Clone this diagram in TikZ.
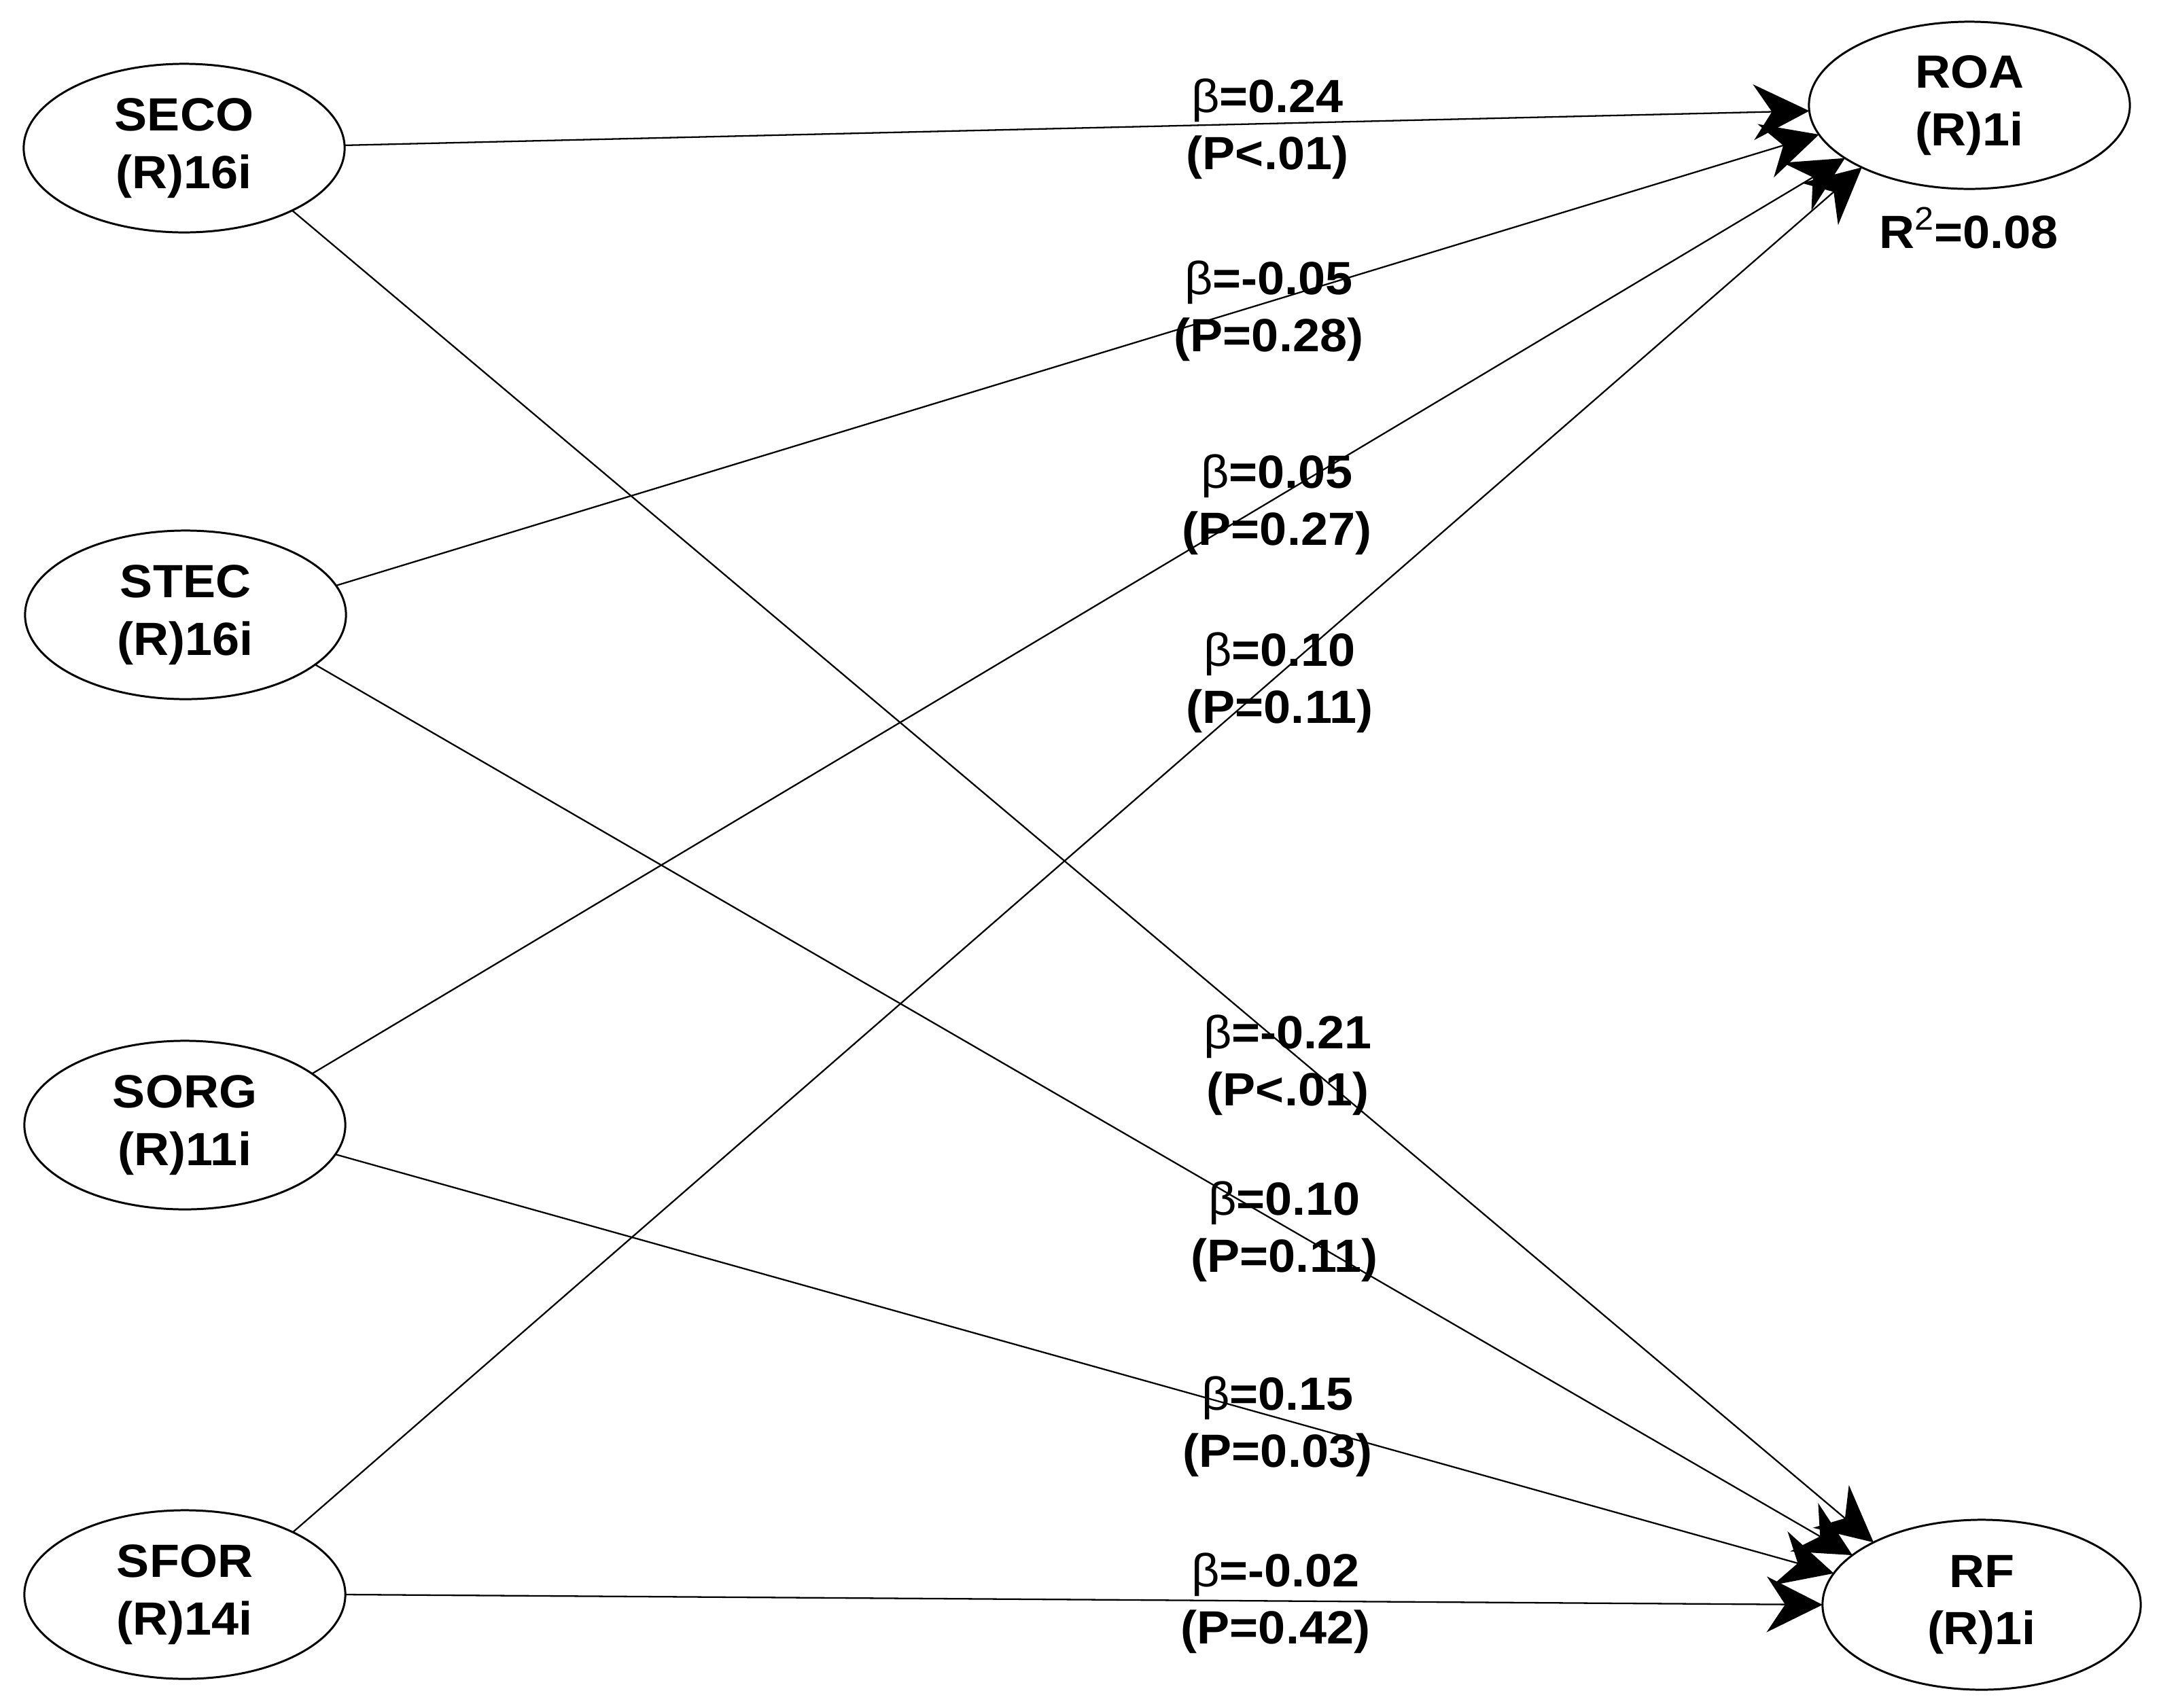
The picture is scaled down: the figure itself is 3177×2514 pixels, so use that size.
\documentclass[tikz,border=0pt]{standalone}
\usepackage{fontspec}
\setmainfont{Liberation Sans}[FakeStretch=1.05]
\usetikzlibrary{shapes.geometric,arrows.meta}
\tikzset{
  lat/.style={ellipse, draw, line width=0.85pt, inner sep=0pt, outer sep=0pt,
    minimum width=4.72cm, minimum height=2.48cm, align=center,
    font=\bfseries\fontsize{19.5}{24}\selectfont},
  conn/.style={line width=0.65pt, -{Stealth[length=0.82cm,width=0.82cm,inset=0.27cm]}},
  coef/.style={align=center, inner sep=0pt, font=\bfseries\fontsize{19.5}{24}\selectfont},
}
\begin{document}
\begin{tikzpicture}[x=0.01cm, y=-0.01cm]
\fill[white] (0,0) rectangle (3177,2514);
\useasboundingbox (0,0) rectangle (3177,2514);

% latent variables
\node[lat] (SECO) at (271,218) {SECO\\(R)16i};
\node[lat] (STEC) at (273,905) {STEC\\(R)16i};
\node[lat] (SORG) at (272,1656) {SORG\\(R)11i};
\node[lat] (SFOR) at (272,2347) {SFOR\\(R)14i};
\node[lat, minimum height=2.46cm] (ROA) at (2898,155) {ROA\\(R)1i};
\node[lat, minimum width=4.68cm, minimum height=2.50cm] (RF) at (2916,2362) {RF\\(R)1i};

% R squared
\node[coef, anchor=base] (R2) at (2897,365) {R\textsuperscript{\mdseries 2}=0.08};

% paths
\draw[conn] (SECO.1) -- (ROA.182);
\draw[conn] (SECO.-30) -- (RF.150);
\draw[conn] (STEC.11) -- (ROA.191);
\draw[conn] (STEC.-21) -- (RF.159);
\draw[conn] (SORG.22) -- (ROA.203);
\draw[conn] (SORG.-11) -- (RF.168);
\draw[conn] (SFOR.30) -- (ROA.210);
\draw[conn] (SFOR.0) -- (RF.180);

% coefficients
\node[coef] (c1) at (1865,190) {{\mdseries β}=0.24\\(P<.01)};
\node[coef] (c2) at (1867,458) {{\mdseries β}=-0.05\\(P=0.28)};
\node[coef] (c3) at (1879,743) {{\mdseries β}=0.05\\(P=0.27)};
\node[coef] (c4) at (1883,1005) {{\mdseries β}=0.10\\(P=0.11)};
\node[coef] (c5) at (1895,1568) {{\mdseries β}=-0.21\\(P<.01)};
\node[coef] (c6) at (1890,1813) {{\mdseries β}=0.10\\(P=0.11)};
\node[coef] (c7) at (1880,2100) {{\mdseries β}=0.15\\(P=0.03)};
\node[coef] (c8) at (1877,2360) {{\mdseries β}=-0.02\\(P=0.42)};
\end{tikzpicture}
\end{document}
